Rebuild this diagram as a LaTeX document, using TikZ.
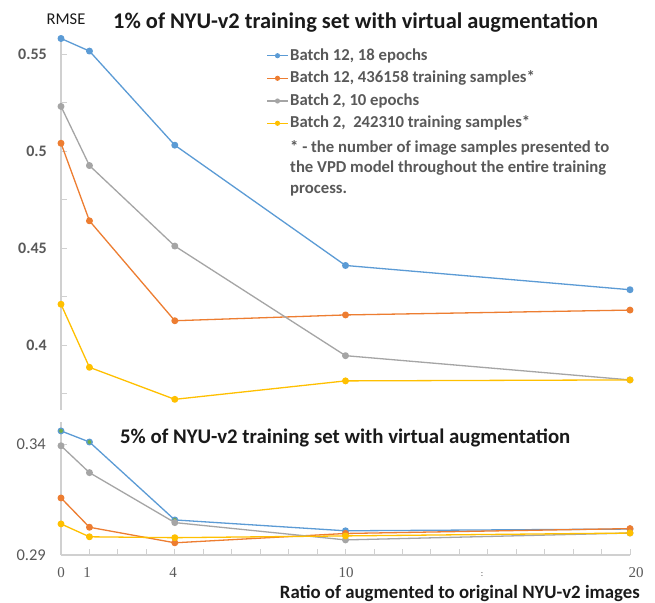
\documentclass[tikz,border=0pt]{standalone}
\usepackage{fontspec}
\setmainfont{Carlito}
\newfontfamily\tickserif{Liberation Serif}
\usetikzlibrary{calc}
\definecolor{sblue}{HTML}{5B9BD5}
\definecolor{sorange}{HTML}{ED7D31}
\definecolor{sgray}{HTML}{A5A5A5}
\definecolor{syellow}{HTML}{FFC000}
\definecolor{sgreen}{HTML}{70AD47}
\definecolor{axisgray}{HTML}{D0D0D0}
\definecolor{labelgray}{HTML}{595959}
\definecolor{titleblack}{HTML}{1A1A1A}
\begin{document}
\begin{tikzpicture}[x=1pt,y=-1pt,
  axisline/.style={draw=axisgray,line width=1.4pt},
  tickline/.style={draw=axisgray,line width=0.9pt},
  series/.style={draw=#1,line width=1.3pt,line join=round,
    mark=*,mark size=2.8pt,mark options={fill=#1,draw=#1,solid}},
  legendline/.style={draw=#1,line width=1.3pt},
  legendtext/.style={anchor=west,inner sep=0pt,text=labelgray,
    font=\bfseries\fontsize{16.7}{18}\selectfont},
  ylab/.style={anchor=east,inner sep=0pt,text=labelgray,
    font=\bfseries\fontsize{16}{18}\selectfont},
  ylabthin/.style={anchor=east,inner sep=0pt,text=labelgray,
    font=\fontsize{16.5}{18}\selectfont},
  xlab/.style={inner sep=0pt,text=labelgray,
    font=\tickserif\fontsize{15}{17}\selectfont},
  charttitle/.style={anchor=west,inner sep=0pt,text=titleblack,
    font=\bfseries\fontsize{#1}{24}\selectfont}]
\useasboundingbox[fill=white] (0,0) rectangle (655,602);

% ---------- upper panel: 1% subset ----------
\draw[axisline] (61,40) -- (61,410);
\foreach \yy in {54,102.5,151,199.5,248,296.5,345,393.5}
  \draw[tickline] (61,\yy) -- (67,\yy);
\node[ylab] (t055) at (47,54) {0.55};
\node[ylab] (t050) at (47,151) {0.5};
\node[ylab] (t045) at (47,248) {0.45};
\node[ylab] (t040) at (47,345) {0.4};
\node[inner sep=0pt,text=titleblack,font=\fontsize{16.5}{18}\selectfont]
  (rmse) at (66,19) {RMSE};
\node[charttitle=22.4] (title1) at (113,23)
  {1\% of NYU-v2 training set with virtual augmentation};

% data: x = ratio, y = RMSE value
\begin{scope}[x=28.45pt,y=1940pt,xshift=61pt,yshift=-1121pt]
  \draw[series=sblue] plot coordinates
    {(0,0.558) (1,0.5515) (4,0.503) (10,0.441) (20,0.4285)};
  \draw[series=sorange] plot coordinates
    {(0,0.504) (1,0.464) (4,0.4125) (10,0.4155) (20,0.418)};
  \draw[series=sgray] plot coordinates
    {(0,0.523) (1,0.4925) (4,0.451) (10,0.3945) (20,0.382)};
  \draw[series=syellow] plot coordinates
    {(0,0.421) (1,0.3885) (4,0.372) (10,0.3815) (20,0.382)};
\end{scope}

% legend
\foreach \c/\yy/\name in {sblue/55.7/lb,sorange/78.3/lo,sgray/101/lg,syellow/123.3/ly}{
  \coordinate (\name a) at (267,\yy);
  \coordinate (\name b) at (288,\yy);
  \draw[legendline=\c] (\name a) -- (\name b);
  \fill[\c] ($(\name a)!0.5!(\name b)$) circle (2.6);
}
\node[legendtext] (leg1) at (290,55.7) {Batch 12, 18 epochs};
\node[legendtext] (leg2) at (290,78.3) {Batch 12, 436158 training samples*};
\node[legendtext] (leg3) at (290,101) {Batch 2, 10 epochs};
\node[legendtext] (leg4) at (290,123.3) {Batch 2,\ \ 242310 training samples*};
\node[legendtext,align=left,font=\bfseries\fontsize{16.7}{20.5}\selectfont]
  (note) at (290,168.3)
  {* - the number of image samples presented to\\
   the VPD model throughout the entire training\\
   process.};

% ---------- lower panel: 5% subset ----------
\draw[axisline] (61,422) -- (61,555);
\draw[axisline] (61,555) -- (630,555);
\foreach \k in {1,...,20}
  \draw[tickline] ({61+28.45*\k},555) -- ({61+28.45*\k},549);
\draw[tickline] (61,444) -- (67,444);
\node[ylabthin] (b034) at (46,444) {0.34};
\node[ylabthin] (b029) at (46,555) {0.29};
\node[charttitle=20.8] (title2) at (120,438)
  {5\% of NYU-v2 training set with virtual augmentation};

\begin{scope}[x=28.45pt,y=2220pt,xshift=61pt,yshift=-1198.8pt]
  \draw[series=sblue] plot coordinates
    {(0,0.3459) (1,0.3409) (4,0.3058) (10,0.3009) (20,0.3017)};
  \draw[draw=none,mark=*,mark size=2.3pt,mark options={fill=sgreen,draw=sblue}]
    plot coordinates {(0,0.3459) (1,0.3409) (4,0.3058)};
  \draw[series=sorange] plot coordinates
    {(0,0.3157) (1,0.3025) (4,0.2955) (10,0.2997) (20,0.3019)};
  \draw[series=sgray] plot coordinates
    {(0,0.3392) (1,0.3271) (4,0.3046) (10,0.2968) (20,0.2999)};
  \draw[series=syellow] plot coordinates
    {(0,0.304) (1,0.2982) (4,0.2978) (10,0.2986) (20,0.2999)};
\end{scope}

% x axis labels
\node[xlab] (x0) at (61,573) {0};
\node[xlab] (x1) at (87,573) {1};
\node[xlab] (x4) at (173,573) {4};
\node[xlab] (x10) at (346,573) {10};
\node[xlab] (x20) at (636,573) {20};
\node[inner sep=0pt,text=labelgray,font=\fontsize{9}{10}\selectfont] (dots) at (482,575) {:};
\node[anchor=east,inner sep=0pt,text=titleblack,font=\bfseries\fontsize{18.8}{20}\selectfont]
  (xtitle) at (640,593) {Ratio of augmented to original NYU-v2 images};
\end{tikzpicture}
\end{document}
